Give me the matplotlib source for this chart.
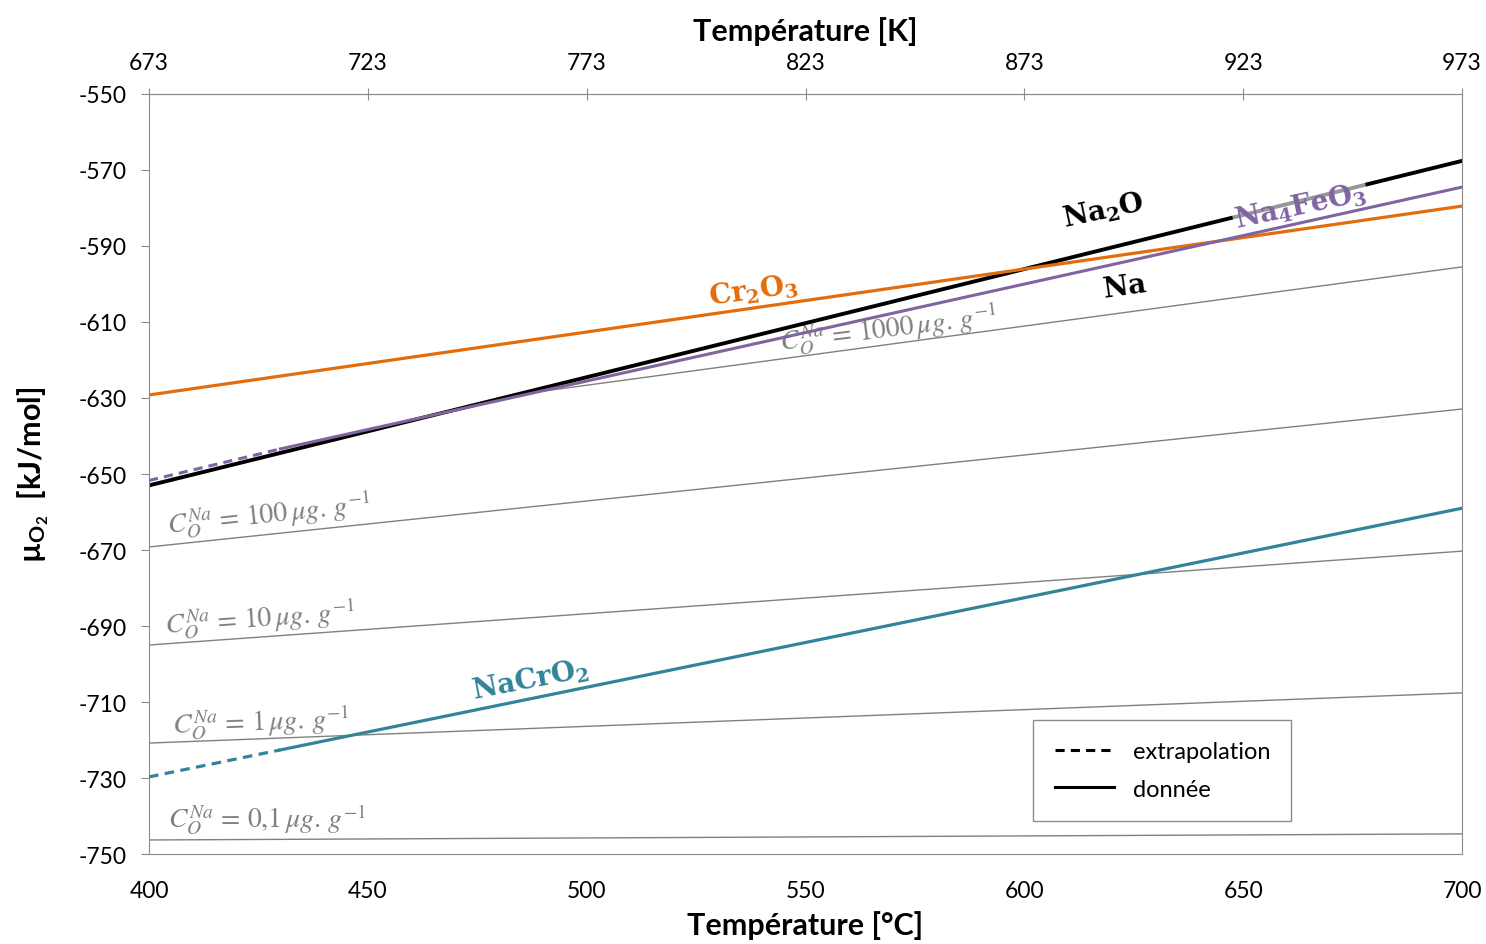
import matplotlib
matplotlib.use("Agg")
import matplotlib.pyplot as plt

plt.rcParams['font.family'] = ['Lato', 'DejaVu Sans']
plt.rcParams['mathtext.fontset'] = 'stix'
plt.rcParams['axes.unicode_minus'] = False

# temperature endpoints (°C) and mu_O2 (kJ/mol)
t_full = [400, 700]

cr2o3 = [-629.2, -579.5]
na2o = [-653.0, -567.6]

na4feo3_t_ext = [400, 430]
na4feo3_ext = [-651.7, -643.4]
na4feo3_t = [430, 700]
na4feo3 = [-643.4, -574.5]

nacro2_t_ext = [400, 430]
nacro2_ext = [-729.7, -722.6]
nacro2_t = [430, 700]
nacro2 = [-722.6, -659.0]

# iso-concentration lines of O in Na
conc_labels = ['1000', '100', '10', '1', '0,1']
conc_t = [[490, 700], [400, 700], [400, 700], [400, 700], [400, 700]]
conc_vals = [[-628.2, -595.5], [-669.2, -632.9], [-695.0, -670.3],
             [-720.8, -707.6], [-746.3, -744.7]]

ORANGE = '#E46C0A'
PURPLE = '#8064A2'
TEAL = '#31849B'
GRAY = '#808080'

fig = plt.figure(figsize=(14.86, 9.45), dpi=100)
ax = fig.add_axes([0.1003, 0.0952, 0.8836, 0.8043])

for t, v in zip(conc_t, conc_vals):
    ax.plot(t, v, color=GRAY, lw=1.0, zorder=1)

ax.plot(t_full, cr2o3, color=ORANGE, lw=2.3, zorder=3)
ax.plot(t_full, na2o, color='black', lw=2.8, zorder=2)
ax.plot(na4feo3_t_ext, na4feo3_ext, color=PURPLE, lw=2.2, ls=(0, (3, 2)), zorder=4)
ax.plot(na4feo3_t, na4feo3, color=PURPLE, lw=2.2, zorder=4)
ax.plot(nacro2_t_ext, nacro2_ext, color=TEAL, lw=2.3, ls=(0, (3, 2)), zorder=3)
ax.plot(nacro2_t, nacro2, color=TEAL, lw=2.3, zorder=3)

# labels on the curves
lab = dict(fontsize=20, ha='center', va='center', zorder=5, math_fontfamily='dejavuserif')
ax.text(538, -601.5, r'$\mathbf{Cr_2O_3}$', color=ORANGE, rotation=8, **lab)
ax.text(618, -580.5, r'$\mathbf{Na_2O}$', color='black', rotation=12, **lab)
ax.text(663, -579.5, r'$\mathbf{Na_4FeO_3}$', color=PURPLE, rotation=12, fontsize=20,
        ha='center', va='center', zorder=3, math_fontfamily='dejavuserif',
        bbox=dict(facecolor='white', alpha=0.6, edgecolor='none', pad=1))
ax.text(623, -600.5, r'$\mathbf{Na}$', color='black', rotation=8, **lab)
ax.text(487, -704, r'$\mathbf{NaCrO_2}$', color=TEAL, rotation=11, **lab)

conc_pos = [(569, -611.8, 7), (427.5, -660.5, 6), (425.5, -688, 4),
            (425.5, -715, 2), (427, -740.8, 0)]
for name, (x, y, r) in zip(conc_labels, conc_pos):
    ax.text(x, y, r'$C_O^{Na}\,=\,' + name.replace(',', '{,}') + r'\,\mu g.\,g^{-1}$',
            color=GRAY, fontsize=20, rotation=r, ha='center', va='center', zorder=1.5)

ax.set_xlim(400, 700)
ax.set_ylim(-750, -550)
ax.set_xticks(range(400, 701, 50))
ax.set_yticks(range(-750, -549, 20))
for s in ax.spines.values():
    s.set_color('#8c8c8c')
ax.tick_params(axis='both', colors='#8c8c8c', labelcolor='black', labelsize=16.5)
ax.tick_params(axis='x', length=0, pad=19)
ax.tick_params(axis='y', length=6, pad=10)
ax.set_xlabel('Température [°C]', fontsize=22, fontweight='bold', labelpad=6)
ax.set_ylabel('µ$_\\mathregular{O_2}$  [kJ/mol]', fontsize=22, fontweight='bold', labelpad=20)

top = ax.secondary_xaxis('top', functions=(lambda c: c + 273, lambda k: k - 273))
top.set_xticks(range(673, 974, 50))
top.tick_params(colors='#8c8c8c', labelcolor='black', labelsize=16.5, length=8,
                direction='inout', pad=11)
top.spines['top'].set_color('#8c8c8c')
top.set_xlabel('Température [K]', fontsize=22, fontweight='bold', labelpad=9)

# legend
h1, = ax.plot([], [], color='black', lw=2.2, ls=(0, (3, 2)))
h2, = ax.plot([], [], color='black', lw=2.2)
leg = ax.legend([h1, h2], ['extrapolation', 'donnée'], loc='lower right',
                bbox_to_anchor=(0.879, 0.028), fontsize=17, fancybox=False,
                edgecolor='#8c8c8c', framealpha=1, handlelength=2.5, borderpad=0.9,
                labelspacing=0.7)
leg.get_frame().set_linewidth(1.0)

fig.savefig('out.png', dpi=100, facecolor='white')
